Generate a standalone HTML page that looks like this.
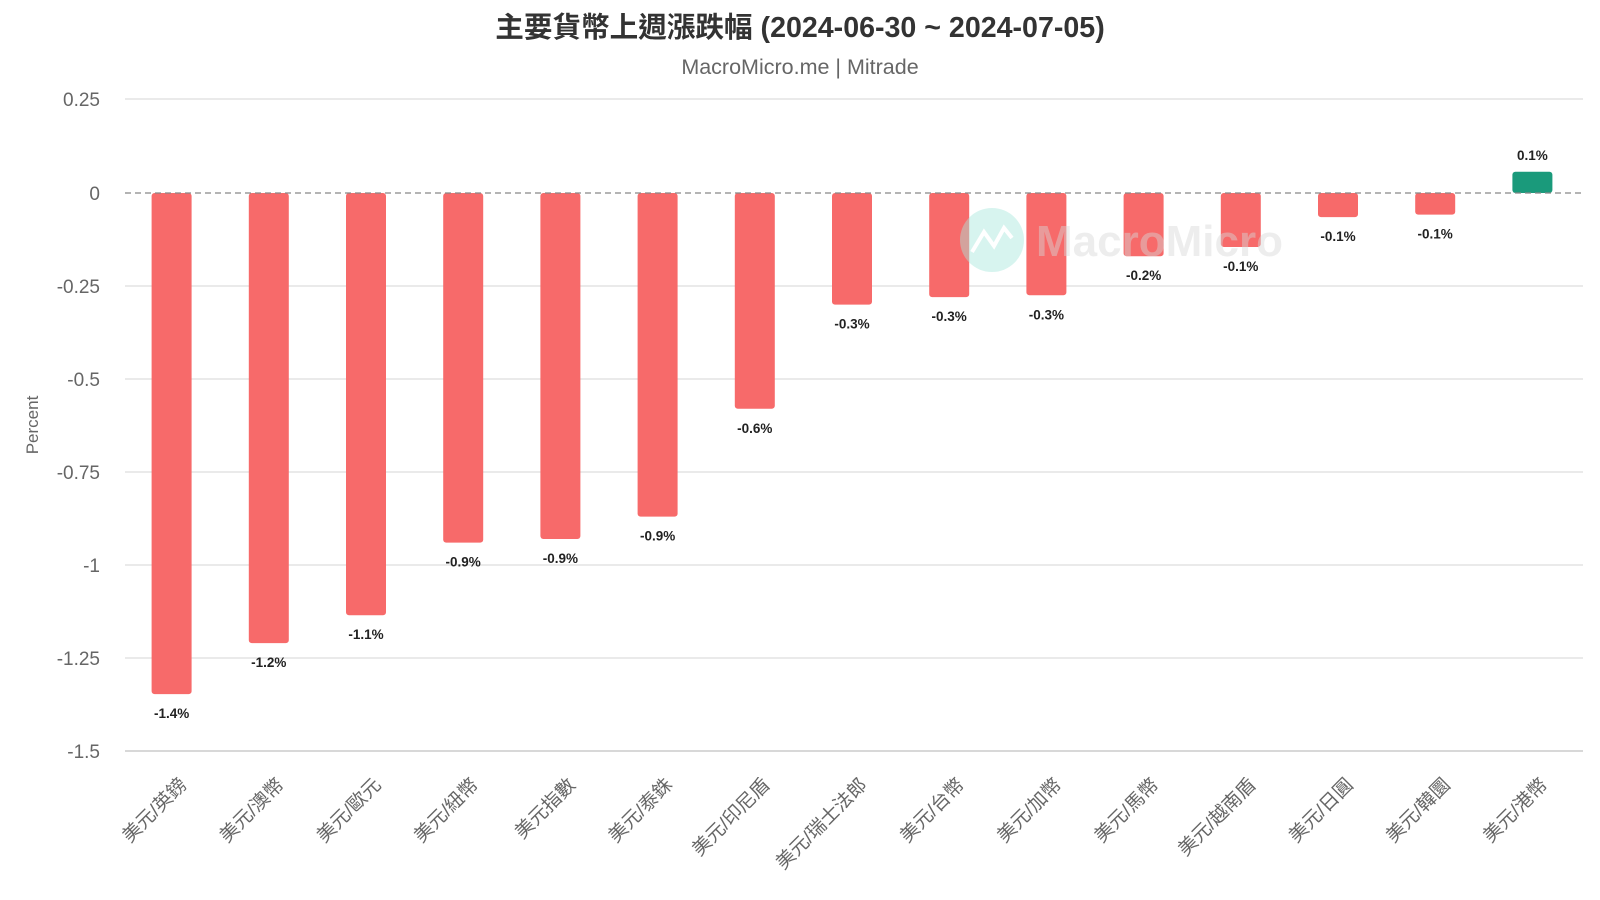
<!DOCTYPE html>
<html><head><meta charset="utf-8"><style>body{margin:0;background:#fff}svg{display:block}text{font-family:"Liberation Sans","Noto Sans CJK TC",sans-serif}</style></head><body>
<svg width="1600" height="900" viewBox="0 0 1600 900">
<text x="800" y="37" text-anchor="middle" font-size="28.6" font-weight="bold" fill="#333">主要貨幣上週漲跌幅 (2024-06-30 ~ 2024-07-05)</text>
<text x="800" y="74" text-anchor="middle" font-size="21.5" fill="#666">MacroMicro.me | Mitrade</text>
<g stroke="#e3e3e3" stroke-width="1.5">
<line x1="125" x2="1583" y1="99" y2="99"/><line x1="125" x2="1583" y1="286" y2="286"/><line x1="125" x2="1583" y1="379" y2="379"/><line x1="125" x2="1583" y1="472" y2="472"/><line x1="125" x2="1583" y1="565" y2="565"/><line x1="125" x2="1583" y1="658" y2="658"/></g>
<line x1="125" x2="1583" y1="751" y2="751" stroke="#ccc" stroke-width="1.5"/>
<g font-size="19" fill="#666" text-anchor="end">
<text x="100" y="106">0.25</text><text x="100" y="200">0</text><text x="100" y="293">-0.25</text><text x="100" y="386">-0.5</text><text x="100" y="479">-0.75</text><text x="100" y="572">-1</text><text x="100" y="665">-1.25</text><text x="100" y="758">-1.5</text></g>
<text transform="translate(38,425) rotate(-90)" text-anchor="middle" font-size="17" fill="#666">Percent</text>
<g id="bars"></g>
<g opacity="0.45">
<circle cx="992" cy="240" r="32" fill="#a8e8dc"/>
<polyline points="972,252 984,232 994,246 1004,228 1012,238" fill="none" stroke="#fff" stroke-width="4"/>
<text x="1036" y="256" font-size="44" font-weight="bold" fill="#d8d8d8">MacroMicro</text>
</g>
<line x1="125" x2="1583" y1="193" y2="193" stroke="#888" stroke-width="1.3" stroke-dasharray="6,4"/>
<g id="xl"></g>
</svg>
<script>
var v=[-1.347,-1.21,-1.135,-0.94,-0.93,-0.87,-0.58,-0.30,-0.28,-0.275,-0.17,-0.145,-0.065,-0.058,0.057];
var l=["-1.4%","-1.2%","-1.1%","-0.9%","-0.9%","-0.9%","-0.6%","-0.3%","-0.3%","-0.3%","-0.2%","-0.1%","-0.1%","-0.1%","0.1%"];
var n=["美元/英鎊","美元/澳幣","美元/歐元","美元/紐幣","美元指數","美元/泰銖","美元/印尼盾","美元/瑞士法郎","美元/台幣","美元/加幣","美元/馬幣","美元/越南盾","美元/日圓","美元/韓圜","美元/港幣"];
var ns="http://www.w3.org/2000/svg",b=document.getElementById("bars"),x=document.getElementById("xl");
function el(t,a,p,tx){var e=document.createElementNS(ns,t);for(var k in a)e.setAttribute(k,a[k]);if(tx)e.textContent=tx;p.appendChild(e);}
for(var i=0;i<15;i++){var c=123+97.2*(i+0.5),h=Math.abs(v[i])*372,y=v[i]<0?193:193-h;
el("rect",{x:c-20,y:y,width:40,height:h,rx:3,fill:v[i]<0?"#f76a6a":"#1a9a7b"},b);
el("text",{x:c,y:v[i]<0?193+h+24:y-12,"text-anchor":"middle","font-size":13.5,"font-weight":"bold",fill:"#222"},b,l[i]);
el("text",{transform:"translate("+(c+16)+",786) rotate(-45)","text-anchor":"end","font-size":19,fill:"#666"},x,n[i]);}
</script>
</body></html>
